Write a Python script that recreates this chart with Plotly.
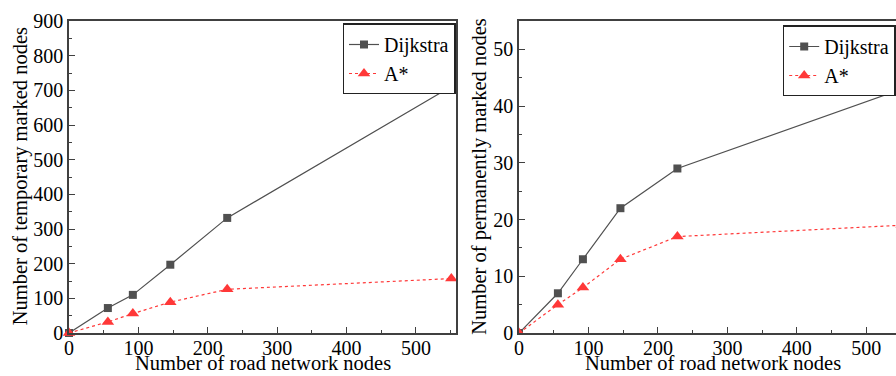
import plotly.graph_objects as go

nodes = [0, 56, 92, 146, 228, 551]
dijkstra_temp = [0, 72, 110, 197, 332, 711]
astar_temp = [0, 32, 56, 89, 126, 157]
dijkstra_perm = [0, 7, 13, 22, 29, 43]
astar_perm = [0, 5, 8, 13, 17, 19]

W, H = 896, 376
FONT = "Liberation Serif, Times New Roman, serif"
RED = "#ff3838"
AX = "#404040"

L1, R1 = 69, 455.5
L2, R2 = 519, 896
TOP, BOT = 20.5, 333

fig = go.Figure()

def add(x, y, name, color, dash, symbol, size, xa, ya, legend):
    fig.add_trace(go.Scatter(
        x=x, y=y, name=name, mode="lines+markers",
        line=dict(color=color, width=1.2, dash=dash),
        marker=dict(color=color, symbol=symbol, size=size),
        xaxis=xa, yaxis=ya, legend=legend, cliponaxis=(xa == "x2"),
    ))

add(nodes, dijkstra_temp, "Dijkstra", "#505050", "solid", "square", 8, "x", "y", "legend")
add(nodes, astar_temp, "A*", RED, "dot", "triangle-up", 11, "x", "y", "legend")
add(nodes, dijkstra_perm, "Dijkstra", "#505050", "solid", "square", 8, "x2", "y2", "legend2")
add(nodes, astar_perm, "A*", RED, "dot", "triangle-up", 11, "x2", "y2", "legend2")

tickfont = dict(family=FONT, size=20, color="black")

def xaxis(domain, rng):
    return dict(domain=domain, range=rng, showline=True, linecolor=AX, linewidth=1.5,
                mirror=True, ticks="inside", ticklen=6, tickwidth=1.2, tickcolor=AX,
                dtick=100, tick0=0, tickfont=tickfont, showgrid=False, zeroline=False,
                ticklabelstandoff=-4,
                minor=dict(dtick=50, ticks="inside", ticklen=3, tickcolor=AX, showgrid=False),
                automargin=False, fixedrange=True)

def yaxis(anchor, rng, dtick, mdtick, mirror):
    return dict(anchor=anchor, domain=[0, 1],
                range=rng, showline=True, linecolor=AX, linewidth=1.5, mirror=mirror,
                ticks="inside", ticklen=6, tickwidth=1.2, tickcolor=AX, dtick=dtick, tick0=0,
                tickfont=tickfont, showgrid=False, zeroline=False,
                minor=dict(dtick=mdtick, ticks="inside", ticklen=3, tickcolor=AX, showgrid=False),
                automargin=False, fixedrange=True)

legend_common = dict(bgcolor="white", bordercolor="#222222", borderwidth=1.5,
                     font=dict(family=FONT, size=20, color="black"), tracegroupgap=0)

fig.update_layout(
    width=W, height=H,
    font=dict(family=FONT, size=20, color="black"),
    margin=dict(l=0, r=0, t=TOP, b=H - BOT, autoexpand=False),
    paper_bgcolor="white", plot_bgcolor="white",
    template="none",
    xaxis=xaxis([L1 / W, R1 / W], [0, 557]),
    yaxis=yaxis("x", [0, 900], 100, 50, True),
    xaxis2=xaxis([L2 / W, R2 / W], [0, 542.7]) | dict(anchor="y2"),
    yaxis2=yaxis("x2", [0, 55], 10, 5, False),
    showlegend=True,
    legend=dict(x=R1 / W, xanchor="right", y=1 - (23 - TOP) / (BOT - TOP), yanchor="top",
                **legend_common),
    legend2=dict(x=782.7 / W, xanchor="left", y=1 - (25 - TOP) / (BOT - TOP), yanchor="top",
                 **legend_common),
)

titlefont = dict(family=FONT, size=20.5, color="black")
ann = [
    dict(text="Number of road network nodes", x=263 / W, y=-(363.5 - BOT) / (BOT - TOP)),
    dict(text="Number of road network nodes", x=713 / W, y=-(363.5 - BOT) / (BOT - TOP)),
    dict(text="Number of temporary marked nodes", x=20 / W, y=1 - (176 - TOP) / (BOT - TOP), textangle=-90),
    dict(text="Number of permanently marked nodes", x=480 / W, y=1 - (176.5 - TOP) / (BOT - TOP), textangle=-90),
]
for a in ann:
    fig.add_annotation(xref="paper", yref="paper", xanchor="center", yanchor="middle",
                       showarrow=False, font=titlefont, **a)

fig.write_html("out.html")
